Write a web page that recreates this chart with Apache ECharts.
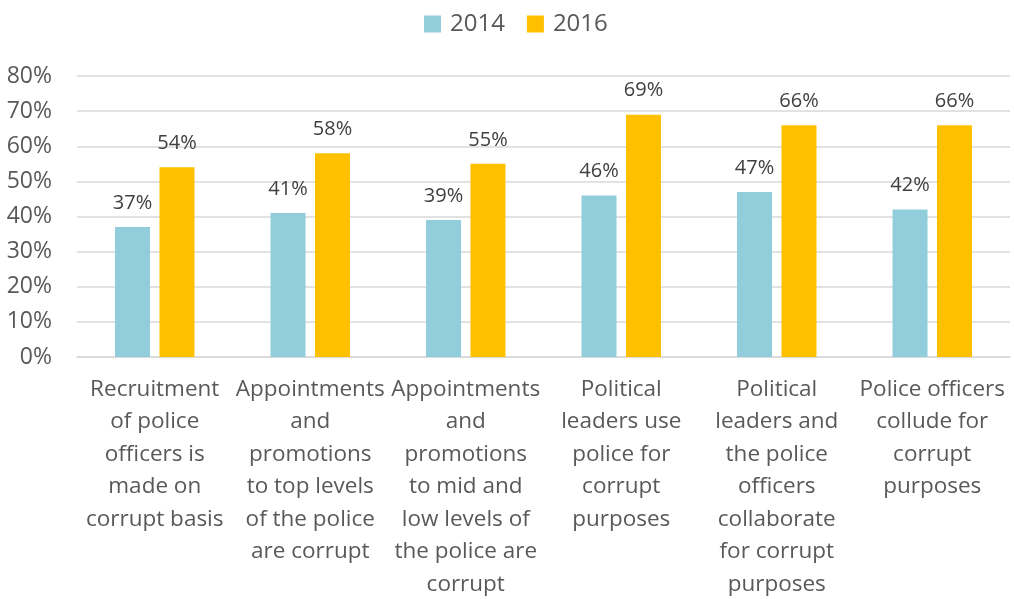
<!DOCTYPE html>
<html>
<head>
<meta charset="utf-8">
<script src="https://cdn.jsdelivr.net/npm/echarts@6/dist/echarts.min.js"></script>
<style>
  html, body { margin: 0; padding: 0; background: #ffffff; }
  #chart { width: 1014px; height: 599px; }
</style>
</head>
<body>
<div id="chart"></div>
<script>
// Perceptions of police corruption, share of respondents (%)
const categories = [
  'Recruitment\nof police\nofficers is\nmade on\ncorrupt basis',
  'Appointments\nand\npromotions\nto top levels\nof the police\nare corrupt',
  'Appointments\nand\npromotions\nto mid and\nlow levels of\nthe police are\ncorrupt',
  'Political\nleaders use\npolice for\ncorrupt\npurposes',
  'Political\nleaders and\nthe police\nofficers\ncollaborate\nfor corrupt\npurposes',
  'Police officers\ncollude for\ncorrupt\npurposes'
];
const seriesNames = ['2014', '2016'];
const values2014 = [37, 41, 39, 46, 47, 42];
const values2016 = [54, 58, 55, 69, 66, 66];
const yTicks = { min: 0, max: 80, interval: 10 };

const FONT = '"Open Sans", "Liberation Sans", sans-serif';
const TEXT = '#595959';

const chart = echarts.init(document.getElementById('chart'), null, { renderer: 'canvas' });

const labelStyle = {
  show: true,
  position: 'top',
  distance: 14,
  formatter: p => p.value + '%',
  color: '#404040',
  fontSize: 20,
  fontFamily: FONT
};

chart.setOption({
  animation: false,
  backgroundColor: '#ffffff',
  legend: {
    data: seriesNames,
    top: 7,
    left: 419,
    itemWidth: 17,
    itemHeight: 17,
    itemGap: 22,
    icon: 'rect',
    textStyle: { color: TEXT, fontSize: 24, fontFamily: FONT, padding: [0, 0, 0, 4] }
  },
  grid: { left: 77, right: 4, top: 76, bottom: 242, containLabel: false, outerBoundsMode: 'none' },
  xAxis: {
    type: 'category',
    data: categories,
    axisLine: { show: true, lineStyle: { color: '#D9D9D9', width: 1.5 } },
    axisTick: { show: false },
    axisLabel: {
      color: TEXT,
      fontSize: 22.5,
      fontFamily: FONT,
      lineHeight: 32.5,
      margin: 16,
      interval: 0,
      align: 'center'
    }
  },
  yAxis: {
    type: 'value',
    min: yTicks.min,
    max: yTicks.max,
    interval: yTicks.interval,
    axisLine: { show: false },
    axisTick: { show: false },
    splitLine: { lineStyle: { color: '#D9D9D9', width: 1.5 } },
    axisLabel: {
      formatter: v => v + '%',
      color: TEXT,
      fontSize: 23,
      fontFamily: FONT,
      margin: 25
    }
  },
  series: [
    {
      name: seriesNames[0],
      type: 'bar',
      data: values2014,
      barWidth: 35,
      barGap: '27%',
      itemStyle: { color: '#92CDDC' },
      label: labelStyle
    },
    {
      name: seriesNames[1],
      type: 'bar',
      data: values2016,
      barWidth: 35,
      itemStyle: { color: '#FFC000' },
      label: labelStyle
    }
  ]
});
</script>
</body>
</html>
